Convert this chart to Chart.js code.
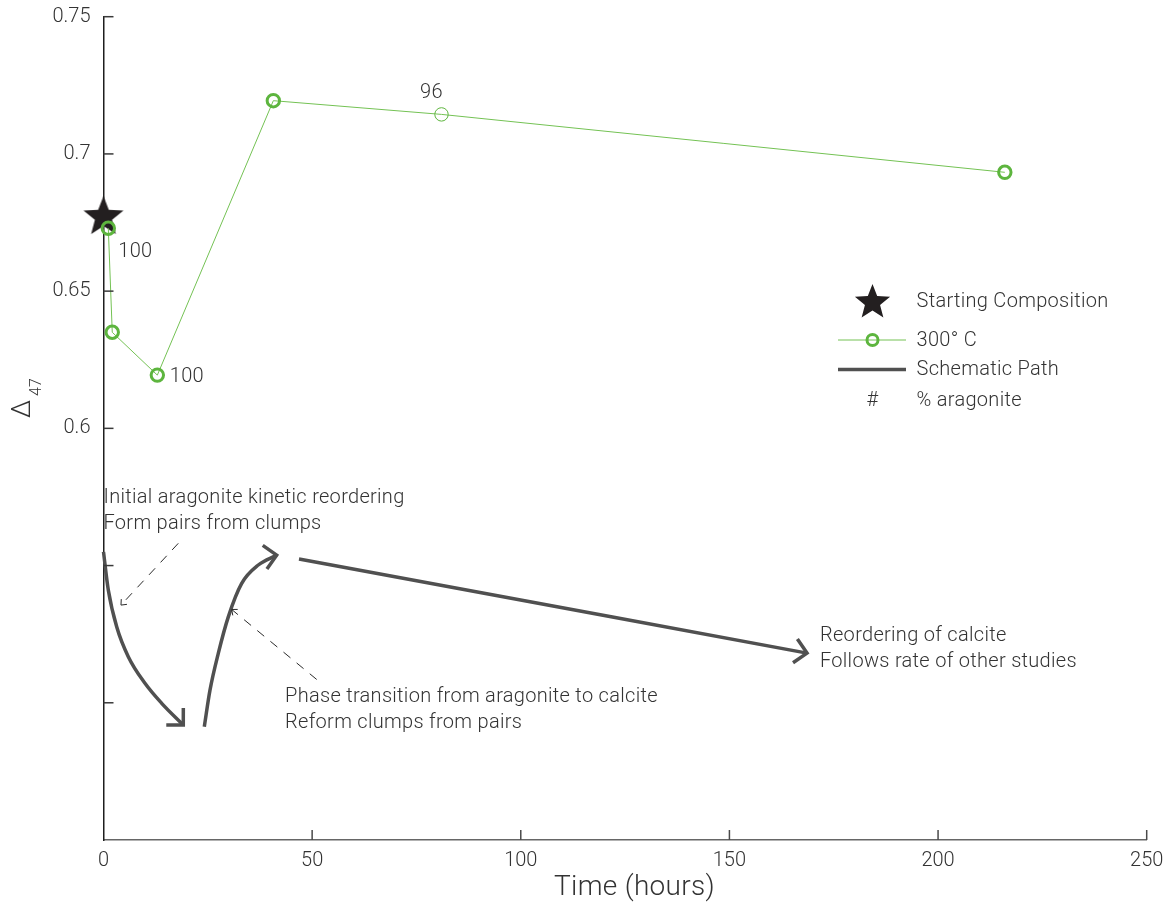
<!DOCTYPE html>
<html>
<head>
<meta charset="utf-8">
<script src="https://cdn.jsdelivr.net/npm/chart.js@4"></script>
<style>
  html, body { margin: 0; padding: 0; background: #ffffff; }
  #wrap { width: 1169px; height: 905px; }
</style>
</head>
<body>
<div id="wrap"><canvas id="chart" width="1169" height="905"></canvas></div>
<script>
// ---- measured data -------------------------------------------------------
const hours300C   = [1.15, 2.1, 12.9, 40.7, 81.0, 216.0];
const d47_300C    = [0.6729, 0.635, 0.6194, 0.7194, 0.7144, 0.6933];
const aragonitePct = [100, null, 100, null, 96, null];

const startHours = [0];
const startD47   = [0.6770];

// schematic reaction path (three segments)
const pathReorderX = [0, 1.15, 3.16, 5.94, 9.94, 13.95, 19.12];
const pathReorderY = [0.5550, 0.5411, 0.5277, 0.5168, 0.5071, 0.4998, 0.4919];
const pathPhaseX   = [24.16, 25.52, 27.51, 29.91, 33.12, 37.10, 41.50];
const pathPhaseY   = [0.4913, 0.5046, 0.5180, 0.5313, 0.5435, 0.5502, 0.5538];
const pathCalciteX = [46.85, 168.6];
const pathCalciteY = [0.5524, 0.5181];

// dashed pointers from the notes to the path
const pointerAX = [17.92, 4.19];
const pointerAY = [0.5581, 0.5356];
const pointerBX = [51.09, 30.72];
const pointerBY = [0.5085, 0.5340];

// axis ticks
const xTickValues = [0, 50, 100, 150, 200, 250];
const yTickValues = [0.45, 0.5, 0.55, 0.6, 0.65, 0.7, 0.75];
const yTickLabels = ['', '', '', '0.6', '0.65', '0.7', '0.75'];

// notes written on the plot (anchored in data units)
const noteLines = [
  { x: 0,     y: 0.5746, lines: ['Initial aragonite kinetic reordering', 'Form pairs from clumps'] },
  { x: 43.5,  y: 0.5021, lines: ['Phase transition from aragonite to calcite', 'Reform clumps from pairs'] },
  { x: 171.7, y: 0.5243, lines: ['Reordering of calcite', 'Follows rate of other studies'] }
];

// ---- styling ---------------------------------------------------------------
const FONT = '"Roboto", "Liberation Sans", "DejaVu Sans", sans-serif';
const TEXT = '#333333';
const GREEN_LINE = '#74c254';
const GREEN_MARK = '#5db53e';
const PATH_GREY = '#505050';

const zip = (xs, ys) => xs.map((x, i) => ({ x, y: ys[i] }));

function starImage(R, color) {
  const size = Math.ceil(2 * R + 2);
  const c = document.createElement('canvas');
  c.width = size; c.height = size;
  const g = c.getContext('2d');
  const cx = size / 2, cy = size / 2, r = R * 0.43;
  g.beginPath();
  for (let k = 0; k < 10; k++) {
    const rad = k % 2 === 0 ? R : r;
    const a = -Math.PI / 2 + k * Math.PI / 5;
    const px = cx + rad * Math.cos(a), py = cy + rad * Math.sin(a);
    if (k === 0) g.moveTo(px, py); else g.lineTo(px, py);
  }
  g.closePath();
  g.fillStyle = color;
  g.fill();
  return c;
}
const starBig = starImage(21, '#231f20');
const starLegend = starImage(18.5, '#231f20');

// ---- plugins ---------------------------------------------------------------
function drawArrowHead(ctx, tipX, tipY, angle, len, half) {
  ctx.beginPath();
  ctx.moveTo(tipX - len * Math.cos(angle - half), tipY - len * Math.sin(angle - half));
  ctx.lineTo(tipX, tipY);
  ctx.lineTo(tipX - len * Math.cos(angle + half), tipY - len * Math.sin(angle + half));
  ctx.stroke();
}

const arrowPlugin = {
  id: 'arrowHeads',
  afterDatasetsDraw(chart) {
    const ctx = chart.ctx;
    chart.data.datasets.forEach((ds, i) => {
      if (!ds.arrow) return;
      const pts = chart.getDatasetMeta(i).data;
      const a = pts[pts.length - 1], b = pts[pts.length - 2];
      let ang = Math.atan2(a.y - b.y, a.x - b.x);
      if (ds.arrow.angleDeg !== undefined) ang = ds.arrow.angleDeg * Math.PI / 180;
      ctx.save();
      ctx.setLineDash([]);
      ctx.strokeStyle = ds.borderColor;
      ctx.lineWidth = ds.borderWidth;
      ctx.lineCap = 'butt';
      ctx.lineJoin = 'miter';
      drawArrowHead(ctx, a.x, a.y, ang, ds.arrow.len, ds.arrow.half);
      ctx.restore();
    });
  }
};

const inwardTicks = {
  id: 'inwardTicks',
  afterDraw(chart) {
    const ctx = chart.ctx, xs = chart.scales.x, ys = chart.scales.y;
    const area = chart.chartArea;
    ctx.save();
    ctx.lineWidth = 1.5;
    ctx.strokeStyle = '#4a4a4a';
    xs.ticks.forEach(t => {
      const px = xs.getPixelForValue(t.value);
      if (t.value === 0) return;
      ctx.beginPath(); ctx.moveTo(px, area.bottom); ctx.lineTo(px, area.bottom - 10); ctx.stroke();
    });
    ctx.strokeStyle = '#3a3a3a';
    ys.ticks.forEach(t => {
      const py = ys.getPixelForValue(t.value);
      if (Math.abs(t.value - 0.45) < 1e-9) return;
      ctx.beginPath(); ctx.moveTo(area.left, py); ctx.lineTo(area.left + 10, py); ctx.stroke();
    });
    ctx.restore();
  }
};

const textPlugin = {
  id: 'plotText',
  afterDraw(chart) {
    const ctx = chart.ctx, xs = chart.scales.x, ys = chart.scales.y;
    ctx.save();
    ctx.fillStyle = TEXT;
    ctx.letterSpacing = '0.3px';

    // percent aragonite labels beside the 300 C points
    const meta = chart.getDatasetMeta(0);
    const offsets = [[10, 23.5, 'left'], null, [12.5, 2, 'left'], null, [-10, -21, 'center'], null];
    ctx.font = '300 20px ' + FONT;
    ctx.textBaseline = 'middle';
    aragonitePct.forEach((v, i) => {
      if (v === null) return;
      const p = meta.data[i], o = offsets[i];
      ctx.textAlign = o[2];
      ctx.fillText(String(v), p.x + o[0], p.y + o[1]);
    });

    // notes
    ctx.textAlign = 'left';
    noteLines.forEach(n => {
      const px = xs.getPixelForValue(n.x), py = ys.getPixelForValue(n.y);
      n.lines.forEach((s, k) => ctx.fillText(s, px, py + k * 25.5));
    });

    // x-axis title
    ctx.textAlign = 'center';
    ctx.font = '300 28px ' + FONT;
    ctx.fillText('Time (hours)', 634.5, 888);

    // y-axis label: Delta with subscript 47
    ctx.save();
    ctx.letterSpacing = '0px';
    ctx.translate(23, 409);
    ctx.rotate(-Math.PI / 2);
    ctx.textAlign = 'center';
    ctx.font = '300 26px ' + FONT;
    ctx.fillText('\u0394', 0, 0);
    ctx.font = '300 16px ' + FONT;
    ctx.fillText('47', 22, 14);
    ctx.restore();

    // legend
    const lx0 = 838, lx1 = 906, lc = 872.5, tx = 916.5;
    ctx.drawImage(starLegend, lc - starLegend.width / 2, 302.5 - starLegend.height / 2);
    ctx.strokeStyle = GREEN_LINE; ctx.lineWidth = 1;
    ctx.beginPath(); ctx.moveTo(lx0, 340); ctx.lineTo(lx1, 340); ctx.stroke();
    ctx.strokeStyle = GREEN_MARK; ctx.lineWidth = 3;
    ctx.beginPath(); ctx.arc(lc, 340, 5.5, 0, Math.PI * 2); ctx.stroke();
    ctx.strokeStyle = PATH_GREY; ctx.lineWidth = 3.5;
    ctx.beginPath(); ctx.moveTo(lx0, 369.5); ctx.lineTo(lx1, 369.5); ctx.stroke();
    ctx.font = '300 20px ' + FONT;
    ctx.textAlign = 'center';
    ctx.fillText('#', lc, 401);
    ctx.textAlign = 'left';
    ctx.fillText('Starting Composition', tx, 302);
    ctx.fillText('300\u00b0 C', tx, 341);
    ctx.fillText('Schematic Path', tx, 370);
    ctx.fillText('% aragonite', tx, 401);
    ctx.restore();
  }
};

// ---- chart -----------------------------------------------------------------
const pathStyle = {
  type: 'line', borderColor: PATH_GREY, borderWidth: 3.5, pointRadius: 0,
  tension: 0.4, cubicInterpolationMode: 'monotone', clip: false, order: 3, fill: false
};
const pointerStyle = {
  type: 'line', borderColor: '#2a2a2a', borderWidth: 1, borderDash: [9, 8],
  pointRadius: 0, tension: 0, clip: false, order: 4, fill: false
};

const zeroPad = s => { s.paddingTop = 0; s.paddingBottom = 0; s.paddingLeft = 0; s.paddingRight = 0; };

new Chart(document.getElementById('chart'), {
  type: 'line',
  data: {
    datasets: [
      {
        label: '300\u00b0 C',
        data: zip(hours300C, d47_300C),
        borderColor: GREEN_LINE,
        borderWidth: 1,
        tension: 0,
        pointStyle: 'circle',
        pointRadius: [6.2, 6.2, 6.2, 6.2, 6.7, 6.2],
        pointBorderWidth: [3, 3, 3, 3, 1, 3],
        pointBorderColor: GREEN_MARK,
        pointBackgroundColor: 'rgba(0,0,0,0)',
        clip: false,
        order: 0
      },
      {
        label: 'Starting Composition',
        data: zip(startHours, startD47),
        showLine: false,
        pointStyle: starBig,
        pointRadius: 21,
        clip: false,
        order: 1
      },
      Object.assign({ label: 'Schematic Path', data: zip(pathReorderX, pathReorderY), arrow: { len: 17, half: Math.PI / 4 } }, pathStyle),
      Object.assign({ label: 'Schematic Path', data: zip(pathPhaseX, pathPhaseY), arrow: { len: 17, half: Math.PI / 4, angleDeg: -10 } }, pathStyle),
      Object.assign({ label: 'Schematic Path', data: zip(pathCalciteX, pathCalciteY), tension: 0, arrow: { len: 17, half: Math.PI / 4 } }, pathStyle),
      Object.assign({ label: 'note', data: zip(pointerAX, pointerAY), arrow: { len: 6, half: 0.7 } }, pointerStyle),
      Object.assign({ label: 'note', data: zip(pointerBX, pointerBY), arrow: { len: 6, half: 0.7 } }, pointerStyle)
    ]
  },
  options: {
    responsive: false,
    animation: false,
    devicePixelRatio: 1,
    events: [],
    layout: { autoPadding: false, padding: { top: 16.7, right: 22.3, bottom: 0, left: 0 } },
    plugins: { legend: { display: false }, tooltip: { enabled: false }, title: { display: false } },
    font: { family: FONT },
    scales: {
      x: {
        type: 'linear', min: 0, max: 250,
        afterBuildTicks: s => { s.ticks = xTickValues.map(v => ({ value: v })); },
        afterFit: s => { s.height = 65; zeroPad(s); },
        ticks: { color: TEXT, font: { family: FONT, size: 20, weight: '300' }, padding: 9, maxRotation: 0 },
        grid: { display: true, drawOnChartArea: false, drawTicks: false },
        border: { display: true, color: '#666666', width: 1.5 }
      },
      y: {
        type: 'linear', min: 0.45, max: 0.75,
        afterBuildTicks: s => { s.ticks = yTickValues.map(v => ({ value: v })); },
        afterFit: s => { s.width = 103.5; zeroPad(s); },
        ticks: { color: TEXT, font: { family: FONT, size: 20, weight: '300' }, padding: 13,
                 callback: (v, i) => yTickLabels[i] },
        grid: { display: true, drawOnChartArea: false, drawTicks: false },
        border: { display: true, color: '#1e1e1e', width: 1.5 }
      }
    }
  },
  plugins: [arrowPlugin, inwardTicks, textPlugin]
});
</script>
</body>
</html>
